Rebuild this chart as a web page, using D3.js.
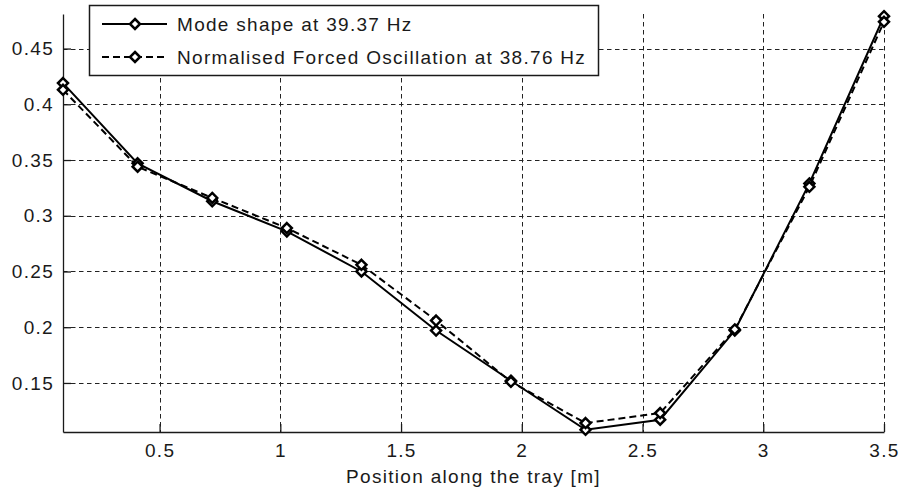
<!DOCTYPE html>
<html>
<head>
<meta charset="utf-8">
<script src="https://cdn.jsdelivr.net/npm/d3@7"></script>
<style>
    body { margin: 0; background: #fff; }
    svg { display: block; }
</style>
</head>
<body>
<script>
// positions of the measuring points along the tray [m]
const positions = [0.1, 0.409, 0.718, 1.027, 1.336, 1.645, 1.955, 2.264, 2.573, 2.882, 3.191, 3.5];
const modeShape = [0.419, 0.347, 0.313, 0.286, 0.250, 0.197, 0.152, 0.108, 0.117, 0.197, 0.329, 0.479];
const forcedOsc = [0.413, 0.344, 0.316, 0.289, 0.256, 0.206, 0.151, 0.114, 0.123, 0.198, 0.326, 0.474];
const seriesNames = ['Mode shape at 39.37 Hz', 'Normalised Forced Oscillation at 38.76 Hz'];
const xTicks = [0.5, 1, 1.5, 2, 2.5, 3, 3.5];
const yTicks = [0.15, 0.2, 0.25, 0.3, 0.35, 0.4, 0.45];
const xDomain = [0.1, 3.5];
const yDomain = [0.106, 0.481];
const xTitle = 'Position along the tray [m]';

const width = 900;
const height = 497;
const padding = { left: 63, right: 16, top: 14, bottom: 65 };
const font = '"Liberation Sans", Arial, sans-serif';
const fontSize = 19;
const spacing = 1.3;
const ink = '#1a1a1a';

const svg = d3.select('body').append('svg')
    .attr('width', width)
    .attr('height', height);

svg.append('rect').attr('width', width).attr('height', height).attr('fill', '#fff');

const x = d3.scaleLinear().domain(xDomain).range([padding.left, width - padding.right]);
const y = d3.scaleLinear().domain(yDomain).range([height - padding.bottom, padding.top]);

// dashed grid
const grid = svg.append('g').attr('class', 'grid')
    .attr('stroke', '#222')
    .attr('stroke-width', 1)
    .attr('stroke-dasharray', '4.5,3.5');

grid.selectAll('.vgrid')
    .data(xTicks)
    .enter()
    .append('line')
    .attr('x1', d => Math.round(x(d)) + 0.5)
    .attr('x2', d => Math.round(x(d)) + 0.5)
    .attr('y1', y.range()[1])
    .attr('y2', y.range()[0]);

grid.selectAll('.hgrid')
    .data(yTicks)
    .enter()
    .append('line')
    .attr('x1', x.range()[0])
    .attr('x2', x.range()[1])
    .attr('y1', d => Math.round(y(d)) + 0.5)
    .attr('y2', d => Math.round(y(d)) + 0.5);

// axes, ticks pointing inward
const xAxis = svg.append('g')
    .attr('transform', `translate(0,${y.range()[0]})`)
    .call(d3.axisBottom(x).tickValues(xTicks).tickFormat(d => String(d))
        .tickSizeInner(-8).tickSizeOuter(0).tickPadding(12));

const yAxis = svg.append('g')
    .attr('transform', `translate(${x.range()[0]},0)`)
    .call(d3.axisLeft(y).tickValues(yTicks).tickFormat(d => String(d))
        .tickSizeInner(-8).tickSizeOuter(0).tickPadding(9));

[xAxis, yAxis].forEach(axis => {
    axis.attr('font-family', font).attr('font-size', fontSize);
    axis.select('.domain').attr('stroke', ink).attr('stroke-width', 1.3);
    axis.selectAll('.tick line').attr('stroke', ink).attr('stroke-width', 1.3);
    axis.selectAll('.tick text').attr('fill', ink).attr('letter-spacing', spacing);
});

svg.append('text')
    .attr('x', (x.range()[0] + x.range()[1]) / 2)
    .attr('y', 483)
    .attr('text-anchor', 'middle')
    .attr('font-family', font)
    .attr('font-size', fontSize)
    .attr('letter-spacing', spacing)
    .attr('fill', ink)
    .text(xTitle);

// series
const diamond = r => `M0,${-r}L${r},0L0,${r}L${-r},0Z`;
const series = [
    { name: seriesNames[0], values: modeShape, dash: null },
    { name: seriesNames[1], values: forcedOsc, dash: '7,4' }
];

const line = d3.line()
    .x(d => x(d[0]))
    .y(d => y(d[1]));

series.forEach(s => {
    const pts = positions.map((p, i) => [p, s.values[i]]);
    const g = svg.append('g').attr('class', 'series');
    g.append('path')
        .datum(pts)
        .attr('d', line)
        .attr('fill', 'none')
        .attr('stroke', '#000')
        .attr('stroke-width', 2)
        .attr('stroke-dasharray', s.dash);
    g.selectAll('path.marker')
        .data(pts)
        .enter()
        .append('path')
        .attr('class', 'marker')
        .attr('d', diamond(5))
        .attr('transform', d => `translate(${x(d[0])},${y(d[1])})`)
        .attr('fill', '#fff')
        .attr('stroke', '#000')
        .attr('stroke-width', 2.5);
});

// legend
const legend = svg.append('g').attr('class', 'legend');
legend.append('rect')
    .attr('x', 89.5).attr('y', 5.5)
    .attr('width', 509).attr('height', 70)
    .attr('fill', '#fff')
    .attr('stroke', ink)
    .attr('stroke-width', 1.5);

series.forEach((s, i) => {
    const ly = 24 + i * 33;
    legend.append('line')
        .attr('x1', 102).attr('x2', 167)
        .attr('y1', ly).attr('y2', ly)
        .attr('stroke', '#000')
        .attr('stroke-width', 2)
        .attr('stroke-dasharray', s.dash);
    legend.append('path')
        .attr('d', diamond(5))
        .attr('transform', `translate(135,${ly})`)
        .attr('fill', '#fff')
        .attr('stroke', '#000')
        .attr('stroke-width', 2.5);
    legend.append('text')
        .attr('x', 177).attr('y', ly)
        .attr('dy', '0.35em')
        .attr('font-family', font)
        .attr('font-size', fontSize)
        .attr('letter-spacing', spacing)
        .attr('fill', ink)
        .text(s.name);
});
</script>
</body>
</html>
